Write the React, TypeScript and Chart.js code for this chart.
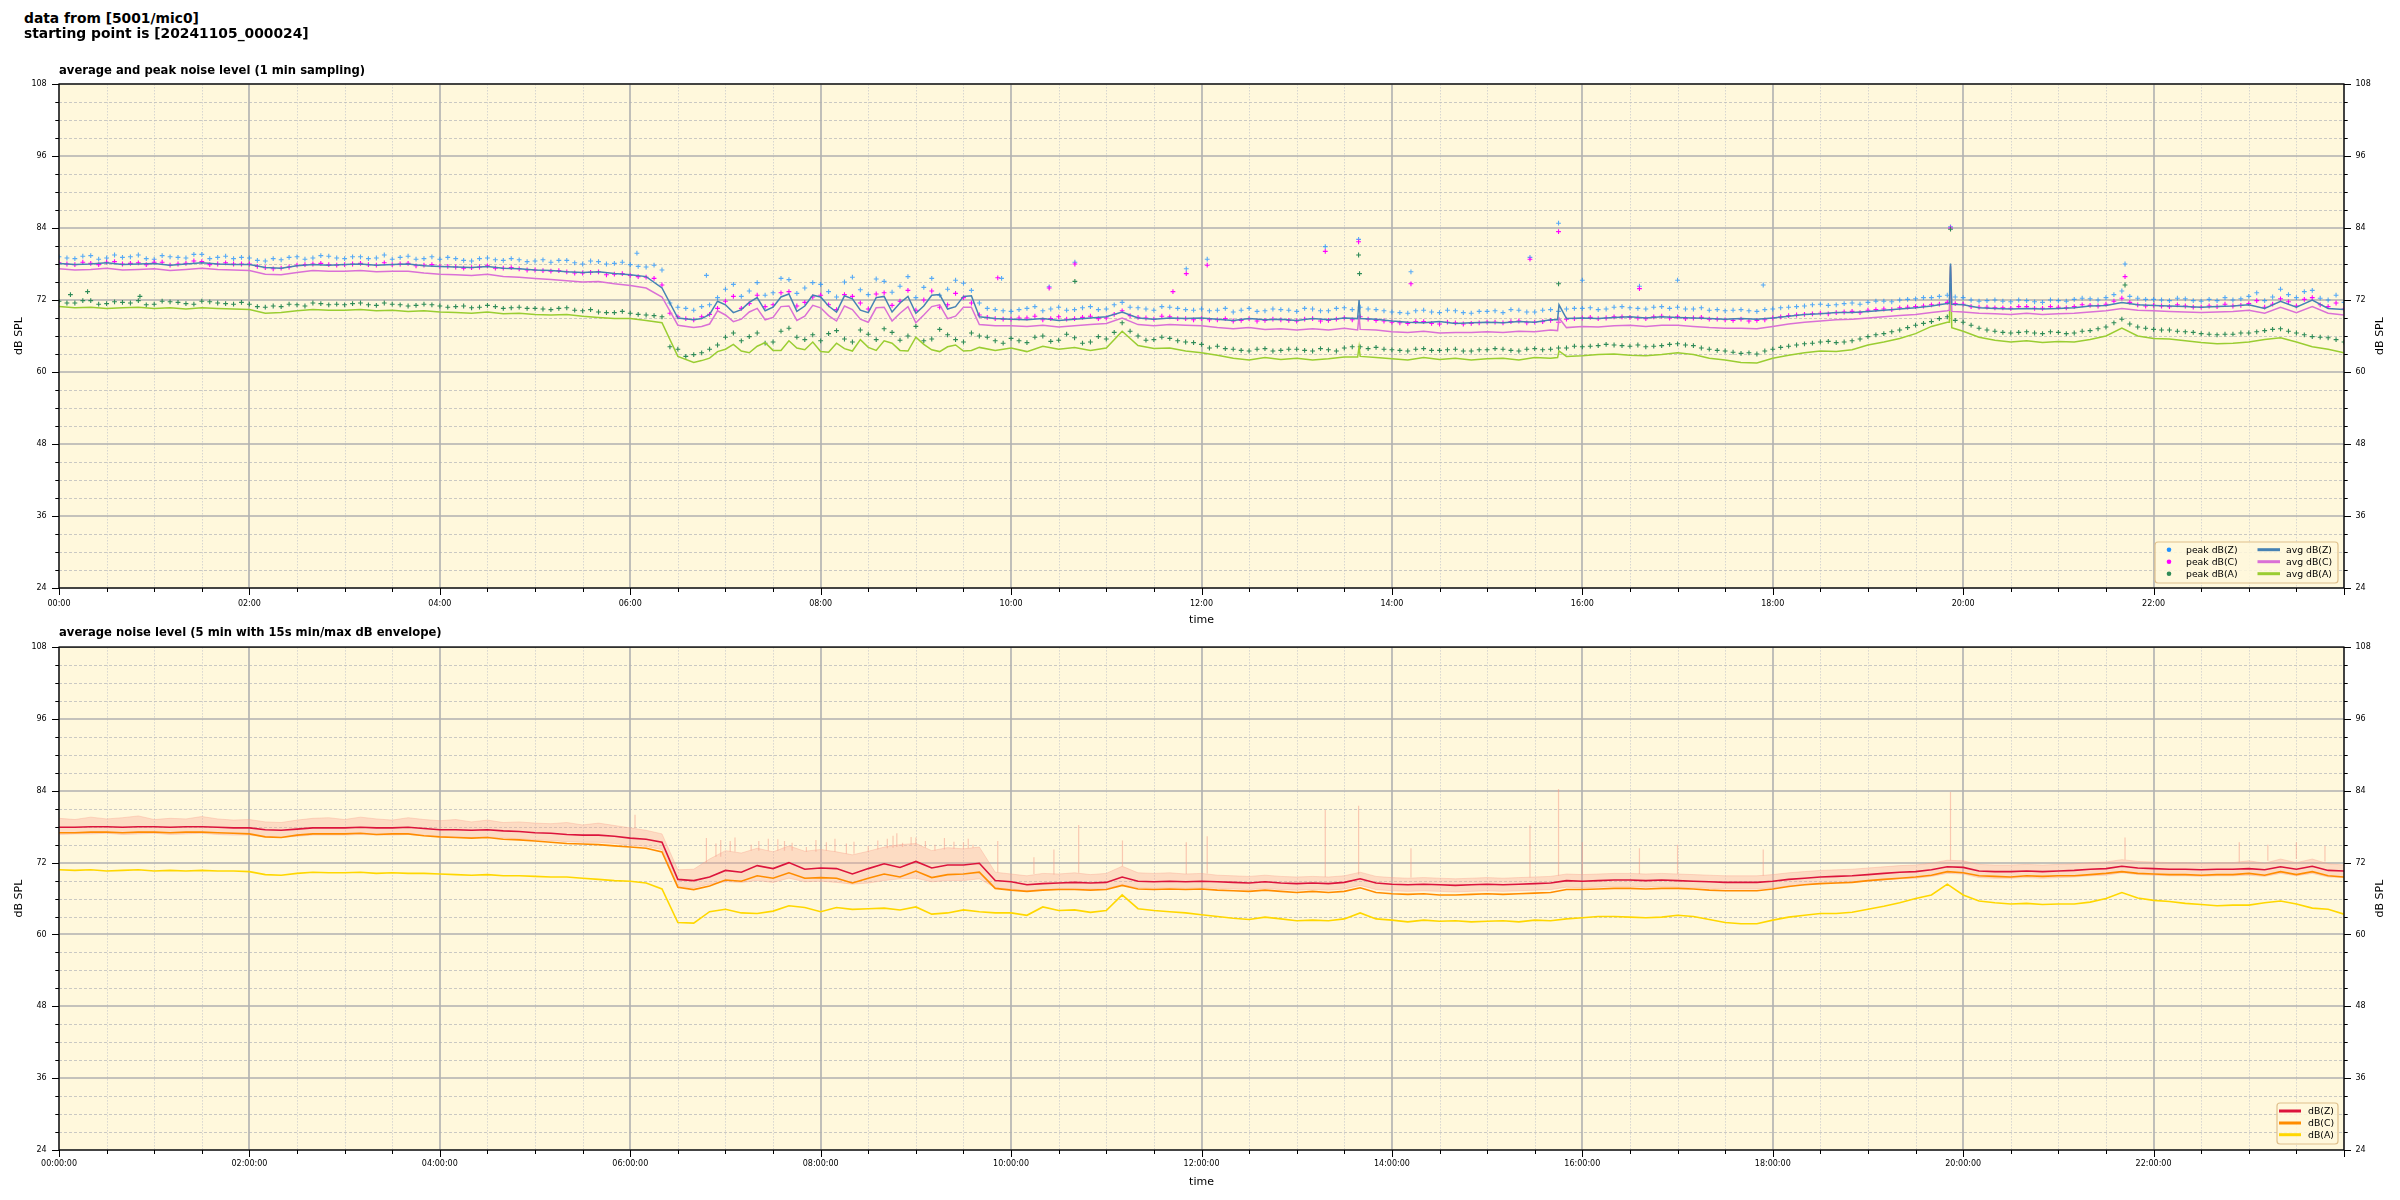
import React, { useEffect, useRef } from "react";
import { Chart, registerables } from "chart.js";

Chart.register(...registerables);

const FONT = "DejaVu Sans";
const PLOT_BG = "#fff8dc";

// 10-minute sampling grid, 00:00 .. 24:00 (hours)
const TIMES: number[] = Array.from({ length: 145 }, (_, i) => i / 6);
// second peak reading in each 10-min slot (5 min later)
const TIMES_B: number[] = Array.from({ length: 144 }, (_, i) => i / 6 + 1 / 12);

// ---------- top panel: 1-min averages (read at 10-min steps) ----------
const AVG_Z = [
  78.1, 77.9, 78.0, 78.2, 77.9, 78.0, 78.1, 77.8, 78.0, 78.2, 78.0, 77.9,
  77.9, 77.4, 77.3, 77.7, 77.9, 77.8, 77.9, 78.0, 77.8, 77.9, 78.0, 77.7,
  77.6, 77.5, 77.4, 77.6, 77.3, 77.2, 77.0, 76.9, 76.7, 76.6, 76.7, 76.4,
  76.2, 75.9, 74.0, 69.0, 68.7, 69.6, 71.2, 70.4, 72.4, 70.8, 73.0, 71.0,
  72.5, 70.0, 72.2, 69.9, 72.6, 71.5, 69.8, 72.8, 70.5, 72.6, 69.2, 68.9,
  68.8, 68.7, 68.9, 68.6, 68.8, 69.0, 69.2, 70.0, 69.0, 68.8, 69.0, 68.9,
  69.0, 68.8, 68.6, 68.9, 68.7, 68.8, 68.6, 68.9, 68.7, 69.0, 68.9, 68.8,
  68.5, 68.3, 68.2, 68.4, 68.1, 68.2, 68.3, 68.2, 68.4, 68.3, 68.7, 68.9,
  69.0, 68.9, 69.1, 69.2, 69.0, 69.2, 69.1, 69.0, 68.9, 68.8, 68.9, 68.8,
  69.0, 69.3, 69.6, 69.7, 69.9, 69.9, 70.1, 70.3, 70.5, 70.7, 71.0, 71.4,
  71.2, 70.7, 70.6, 70.5, 70.6, 70.5, 70.6, 70.7, 71.0, 71.1, 71.6, 71.2,
  71.1, 71.0, 70.9, 70.8, 70.9, 71.0, 71.2, 70.6, 71.8, 70.8, 72.0, 70.6,
  70.4,
];
const AVG_C = [
  77.2, 77.0, 77.1, 77.3, 77.0, 77.1, 77.2, 76.9, 77.1, 77.3, 77.1, 77.0,
  76.9, 76.3, 76.2, 76.6, 76.9, 76.8, 76.8, 76.9, 76.7, 76.8, 76.8, 76.5,
  76.3, 76.2, 76.1, 76.3, 75.9, 75.8, 75.6, 75.4, 75.2, 75.0, 75.1, 74.7,
  74.4, 74.0, 72.5, 67.8, 67.4, 68.0, 69.5, 68.8, 70.6, 69.1, 71.0, 69.3,
  70.7, 68.5, 70.4, 68.3, 70.8, 69.8, 68.2, 70.9, 68.9, 70.8, 67.9, 67.7,
  67.7, 67.6, 67.8, 67.5, 67.7, 67.9, 68.1, 69.0, 67.9, 67.7, 67.9, 67.8,
  67.7, 67.4, 67.2, 67.4, 67.1, 67.2, 67.0, 67.2, 67.0, 67.3, 67.1, 67.0,
  66.7, 66.6, 66.8, 66.5, 66.6, 66.6, 66.7, 66.6, 66.8, 66.7, 67.0, 67.4,
  67.6, 67.5, 67.7, 67.8, 67.6, 67.8, 67.8, 67.6, 67.4, 67.3, 67.3, 67.2,
  67.6, 68.0, 68.3, 68.5, 68.7, 68.8, 69.0, 69.2, 69.4, 69.6, 69.9, 70.2,
  70.0, 69.8, 69.7, 69.6, 69.8, 69.6, 69.7, 69.8, 70.0, 70.2, 70.6, 70.3,
  70.2, 70.1, 70.0, 69.9, 70.0, 70.1, 70.3, 69.8, 70.8, 69.9, 70.9, 69.8,
  69.5,
];
const AVG_A = [
  70.9, 70.7, 70.8, 70.6, 70.7, 70.8, 70.6, 70.7, 70.5, 70.7, 70.6, 70.5,
  70.4, 69.8, 69.9, 70.2, 70.4, 70.3, 70.3, 70.4, 70.2, 70.3, 70.1, 70.2,
  70.0, 69.9, 69.8, 70.0, 69.7, 69.8, 69.6, 69.5, 69.6, 69.3, 69.1, 68.9,
  68.9, 68.6, 68.2, 62.6, 61.6, 62.3, 63.8, 63.5, 64.3, 63.6, 65.2, 63.7,
  63.4, 64.8, 63.5, 64.1, 65.2, 63.6, 65.8, 63.7, 64.2, 63.5, 64.1, 63.6,
  64.0, 63.4, 64.3, 63.8, 64.1, 63.6, 64.0, 66.8, 64.4, 63.9, 64.0, 63.5,
  63.2, 62.8, 62.3, 62.0, 62.4, 62.1, 62.3, 62.0, 62.2, 62.5, 62.6, 62.4,
  62.2, 62.0, 62.4, 62.1, 62.3, 62.0, 62.2, 62.3, 62.0, 62.4, 62.3, 62.6,
  62.7, 62.9, 63.0, 62.8, 62.7, 62.9, 63.2, 62.9, 62.3, 62.0, 61.6, 61.5,
  62.3, 62.8, 63.2, 63.5, 63.4, 63.7, 64.5, 65.0, 65.6, 66.4, 67.6, 68.3,
  66.8, 65.8, 65.3, 65.0, 65.2, 64.9, 65.1, 65.0, 65.4, 66.0, 67.3, 66.0,
  65.6, 65.5, 65.2, 64.9, 64.7, 64.8, 65.0, 65.4, 65.7, 65.0, 64.2, 63.8,
  63.2,
];
// extra readings between grid points in the busy 06:45-09:35 stretch
const MID_T = [6.75, 6.917, 7.083, 7.25, 7.417, 7.583, 7.75, 7.917, 8.083, 8.25, 8.417, 8.583, 8.75, 8.917, 9.083, 9.25, 9.417, 9.583];
const MID_Z = [68.9, 71.8, 69.9, 71.6, 70.2, 72.5, 70.1, 72.8, 71.0, 72.7, 70.3, 72.4, 70.0, 72.6, 71.0, 72.9, 70.9, 72.7];
const MID_C = [67.6, 70.2, 68.4, 70.0, 68.7, 70.9, 68.6, 71.1, 69.4, 71.0, 68.8, 70.7, 68.5, 70.9, 69.5, 71.2, 69.3, 70.8];
const MID_A = [61.9, 63.4, 64.6, 63.2, 64.9, 63.6, 64.0, 65.0, 63.3, 63.9, 65.4, 63.6, 64.8, 63.5, 64.6, 63.4, 64.5, 63.6];
// short 1-min spikes in the averages
const SPIKE_T = [13.64, 13.655, 15.74, 15.755, 19.855, 19.867, 19.88];
const SPIKE_Z = [68.9, 72.0, 68.7, 71.2, 71.4, 78.1, 71.3];
const SPIKE_C = [67.0, 69.5, 66.9, 69.0, 70.3, 77.8, 70.1];
const SPIKE_A = [62.5, 64.2, 62.4, 63.5, 68.3, 77.6, 67.4];

// peaks (two readings per 10-min slot)
const PEAK_Z = [
  79.2, 78.9, 79.4, 79.0, 79.1, 79.5, 78.8, 79.2, 79.0, 79.6, 79.1, 78.9,
  79.0, 78.5, 78.7, 79.2, 79.0, 79.3, 78.9, 79.2, 79.0, 78.8, 79.3, 78.9,
  78.8, 78.9, 78.5, 79.0, 78.6, 78.7, 78.5, 78.3, 78.6, 78.0, 78.4, 78.1,
  77.9, 77.5, 77.0, 70.8, 70.3, 71.2, 73.8, 72.6, 74.9, 73.2, 75.4, 74.0,
  74.6, 72.5, 75.8, 72.9, 75.1, 74.3, 72.4, 75.6, 73.8, 74.8, 71.5, 70.4,
  70.1, 70.6, 70.2, 70.8, 70.4, 70.9, 70.5, 71.6, 70.7, 70.3, 70.8, 70.4,
  70.5, 70.3, 70.0, 70.6, 70.2, 70.4, 70.1, 70.5, 70.2, 70.7, 70.8, 70.4,
  70.0, 69.8, 70.3, 69.9, 70.2, 69.8, 70.1, 69.9, 70.3, 70.0, 70.4, 70.5,
  70.6, 70.4, 70.8, 70.7, 70.5, 70.9, 70.8, 70.5, 70.3, 70.2, 70.4, 70.1,
  70.5, 70.8, 71.0, 71.3, 71.2, 71.5, 71.6, 71.8, 72.0, 72.2, 72.4, 72.8,
  72.4, 71.8, 72.0, 71.7, 71.9, 71.6, 71.9, 72.1, 72.2, 72.4, 73.5, 72.3,
  72.1, 71.9, 72.2, 71.8, 71.9, 72.0, 72.6, 71.9, 73.8, 72.4, 73.6, 72.0,
  71.6,
];
const PEAK_Z_B = [
  79.0, 79.3, 78.8, 79.5, 79.2, 78.9, 79.4, 79.1, 79.6, 78.9, 79.3, 79.1,
  78.6, 78.9, 79.1, 78.8, 79.4, 79.0, 79.2, 78.9, 79.5, 79.1, 78.8, 79.2,
  79.1, 78.6, 78.9, 78.7, 78.9, 78.4, 78.7, 78.6, 78.2, 78.5, 78.0, 78.3,
  77.6, 77.8, 71.5, 70.6, 70.9, 72.4, 74.6, 73.5, 72.8, 75.6, 73.1, 74.9,
  73.4, 75.0, 73.7, 75.5, 73.3, 75.9, 74.1, 72.8, 75.3, 73.6, 70.6, 70.2,
  70.4, 70.9, 70.5, 70.3, 70.7, 70.4, 71.2, 70.8, 70.5, 70.9, 70.6, 70.3,
  70.2, 70.6, 70.3, 70.1, 70.5, 70.3, 70.6, 70.2, 70.6, 70.4, 70.5, 70.2,
  69.9, 70.2, 70.0, 70.3, 69.9, 70.1, 70.2, 70.4, 70.0, 70.3, 70.1, 70.6,
  70.7, 70.5, 70.9, 70.6, 70.8, 70.6, 70.5, 70.7, 70.4, 70.3, 70.2, 70.4,
  70.7, 70.9, 71.2, 71.1, 71.4, 71.3, 71.8, 71.7, 72.1, 72.4, 72.6, 72.5,
  72.0, 71.9, 71.8, 72.0, 71.7, 72.0, 71.8, 72.3, 72.0, 72.9, 72.6, 72.1,
  72.0, 72.3, 71.9, 72.1, 72.4, 72.2, 73.2, 72.5, 72.9, 73.4, 72.3, 72.8,
];
const PEAK_C = [
  78.2, 77.9, 78.1, 78.3, 78.0, 78.2, 78.3, 77.8, 78.1, 78.4, 78.0, 78.0,
  78.0, 77.4, 77.3, 77.8, 78.0, 77.9, 77.9, 78.1, 77.8, 77.9, 78.1, 77.8,
  77.6, 77.5, 77.4, 77.7, 77.3, 77.2, 77.0, 76.8, 76.7, 76.5, 76.7, 76.3,
  76.1, 75.8, 74.5, 69.2, 68.7, 69.6, 71.8, 70.6, 72.8, 71.2, 73.4, 71.6,
  72.8, 70.4, 72.6, 70.5, 73.2, 71.8, 70.3, 73.5, 71.2, 72.4, 69.5, 68.9,
  68.8, 69.0, 68.7, 69.2, 68.9, 69.3, 69.0, 70.2, 69.1, 68.8, 69.2, 68.9,
  68.9, 68.7, 68.5, 68.9, 68.6, 68.7, 68.5, 68.9, 68.6, 69.0, 69.2, 68.6,
  68.3, 68.1, 68.4, 68.0, 68.2, 68.1, 68.3, 68.2, 68.5, 68.3, 68.6, 68.8,
  69.0, 68.9, 69.2, 69.1, 68.9, 69.3, 69.2, 69.0, 68.8, 68.7, 68.8, 68.6,
  69.0, 69.4, 69.6, 69.8, 69.9, 70.1, 70.3, 70.5, 70.7, 70.9, 71.2, 71.6,
  71.3, 70.8, 70.7, 70.6, 70.9, 70.6, 70.8, 70.9, 71.1, 71.3, 72.3, 71.2,
  71.1, 70.9, 71.0, 70.8, 70.9, 71.0, 71.4, 70.8, 72.2, 71.0, 72.4, 70.9,
  70.5,
];
const PEAK_C_B = [
  78.0, 78.3, 77.9, 78.4, 78.1, 77.9, 78.3, 78.0, 78.5, 77.9, 78.2, 78.0,
  77.6, 77.2, 77.5, 77.9, 78.1, 77.8, 78.0, 77.9, 78.2, 78.0, 77.7, 77.9,
  77.6, 77.3, 77.5, 77.3, 77.4, 77.0, 76.9, 76.9, 76.5, 76.6, 76.2, 76.4,
  75.9, 75.6, 69.8, 68.9, 69.2, 70.6, 72.6, 71.4, 70.9, 73.2, 71.0, 72.5,
  71.2, 72.9, 71.5, 73.0, 71.1, 73.6, 72.0, 70.8, 73.1, 71.5, 69.1, 68.8,
  69.0, 69.3, 68.9, 68.8, 69.1, 68.9, 69.6, 69.4, 69.0, 69.3, 68.9, 68.7,
  68.7, 68.9, 68.6, 68.5, 68.8, 68.6, 68.8, 68.5, 68.8, 68.7, 68.8, 68.5,
  68.2, 68.4, 68.1, 68.3, 68.0, 68.2, 68.3, 68.4, 68.2, 68.4, 68.3, 68.9,
  69.1, 69.0, 69.2, 69.0, 69.2, 69.0, 68.9, 69.1, 68.8, 68.6, 68.5, 68.7,
  69.2, 69.5, 69.7, 69.7, 70.0, 69.9, 70.4, 70.4, 70.8, 71.0, 71.3, 71.4,
  70.9, 70.8, 70.7, 70.9, 70.6, 70.9, 70.7, 71.2, 71.0, 71.8, 71.6, 71.0,
  71.0, 71.2, 70.8, 71.0, 71.3, 71.1, 71.9, 71.3, 71.7, 72.1, 71.2, 71.5,
];
const PEAK_A = [
  71.8, 71.5, 71.9, 71.4, 71.6, 71.9, 71.3, 71.7, 71.4, 71.8, 71.5, 71.3,
  71.3, 70.8, 70.9, 71.2, 71.5, 71.2, 71.2, 71.5, 71.1, 71.3, 71.0, 71.3,
  71.0, 70.9, 70.7, 71.1, 70.6, 70.8, 70.6, 70.4, 70.7, 70.2, 70.0, 69.9,
  69.8, 69.5, 69.2, 63.8, 62.9, 63.8, 65.8, 65.2, 66.5, 65.0, 67.3, 65.4,
  65.2, 66.9, 65.0, 66.3, 67.2, 65.3, 67.6, 65.5, 66.2, 65.0, 66.0, 65.2,
  65.6, 64.9, 66.0, 65.3, 65.7, 65.0, 65.5, 68.2, 66.0, 65.4, 65.6, 65.0,
  64.6, 64.3, 63.8, 63.5, 63.9, 63.6, 63.8, 63.5, 63.7, 64.0, 64.2, 64.1,
  63.7, 63.5, 63.9, 63.6, 63.8, 63.5, 63.7, 63.8, 63.5, 63.9, 63.8, 64.0,
  64.2, 64.4, 64.5, 64.3, 64.2, 64.4, 64.7, 64.4, 63.8, 63.5, 63.1, 63.0,
  63.8, 64.3, 64.7, 65.0, 64.9, 65.2, 65.9, 66.4, 67.0, 67.8, 68.4, 69.2,
  68.3, 67.3, 66.8, 66.5, 66.7, 66.4, 66.6, 66.5, 66.9, 67.5, 68.8, 67.5,
  67.1, 67.0, 66.7, 66.4, 66.2, 66.3, 66.5, 66.9, 67.2, 66.5, 65.9, 65.7,
  65.0,
];
const PEAK_A_B = [
  71.5, 71.9, 71.3, 71.7, 71.5, 71.2, 71.8, 71.6, 71.3, 71.7, 71.4, 71.6,
  70.9, 71.0, 71.3, 71.0, 71.4, 71.3, 71.4, 71.2, 71.5, 71.2, 71.1, 71.2,
  70.8, 71.0, 70.8, 70.9, 70.7, 70.6, 70.5, 70.6, 70.3, 70.4, 69.9, 70.1,
  69.6, 69.4, 64.2, 62.6, 63.2, 64.5, 66.5, 65.9, 64.8, 66.8, 65.8, 66.2,
  66.4, 65.5, 67.0, 65.4, 66.6, 66.0, 65.2, 67.1, 65.4, 66.5, 65.8, 64.8,
  65.2, 65.8, 65.1, 66.3, 64.8, 65.9, 66.6, 66.8, 65.3, 65.8, 65.2, 64.9,
  64.0, 63.9, 63.6, 63.8, 63.5, 63.8, 63.6, 63.9, 63.5, 64.2, 63.9, 63.8,
  63.6, 63.8, 63.6, 63.7, 63.5, 63.7, 63.9, 63.6, 63.8, 63.7, 64.0, 64.3,
  64.3, 64.6, 64.4, 64.5, 64.3, 64.6, 64.5, 64.0, 63.6, 63.3, 63.2, 63.5,
  64.1, 64.5, 64.8, 65.1, 65.0, 65.5, 66.2, 66.7, 67.4, 68.1, 68.9, 68.6,
  67.8, 67.0, 66.6, 66.6, 66.5, 66.7, 66.4, 66.8, 67.2, 68.2, 68.0, 67.3,
  67.0, 66.8, 66.6, 66.3, 66.3, 66.5, 66.7, 67.1, 66.8, 66.2, 65.8, 65.4,
];
// isolated peak outliers
const OUT_Z_T = [6.07, 6.8, 9.9, 10.4, 10.67, 11.84, 12.06, 13.3, 13.65, 14.2, 15.45, 15.75, 16.0, 16.6, 17.0, 17.9, 19.867, 21.7];
const OUT_Z = [79.8, 76.1, 75.6, 74.2, 78.3, 77.2, 78.8, 80.9, 82.1, 76.7, 79.1, 84.8, 75.3, 74.3, 75.3, 74.5, 84.2, 78.0];
const OUT_C_T = [9.86, 10.4, 10.67, 11.7, 11.84, 12.06, 13.3, 13.65, 14.2, 15.45, 15.75, 16.6, 19.867, 21.7];
const OUT_C = [75.7, 74.0, 78.0, 73.4, 76.4, 77.8, 80.1, 81.7, 74.7, 78.8, 83.4, 73.9, 84.0, 75.9];
const OUT_A_T = [0.12, 0.3, 0.85, 10.67, 13.65, 13.66, 15.75, 19.867, 21.7];
const OUT_A = [72.9, 73.4, 72.6, 75.1, 79.5, 76.4, 74.7, 83.8, 74.5];

// ---------- bottom panel: 5-min averages + 15 s min/max envelope ----------
const DB_Z = [
  77.9, 77.9, 78.0, 78.0, 77.9, 78.0, 78.0, 77.9, 78.0, 78.0, 77.9, 77.8,
  77.8, 77.5, 77.4, 77.6, 77.8, 77.8, 77.8, 77.9, 77.8, 77.8, 77.9, 77.7,
  77.5, 77.5, 77.4, 77.5, 77.3, 77.2, 77.0, 76.9, 76.7, 76.6, 76.6, 76.4,
  76.1, 75.9, 75.4, 69.2, 69.0, 69.6, 70.7, 70.4, 71.5, 71.0, 72.0, 70.9,
  71.1, 71.0, 70.1, 71.0, 71.8, 71.2, 72.2, 71.1, 71.6, 71.6, 71.9, 69.0,
  68.8, 68.3, 68.5, 68.6, 68.7, 68.6, 68.7, 69.6, 68.9, 68.8, 68.9, 68.8,
  68.9, 68.8, 68.7, 68.6, 68.8, 68.6, 68.5, 68.6, 68.5, 68.7, 69.3, 68.6,
  68.4, 68.3, 68.4, 68.3, 68.2, 68.3, 68.4, 68.3, 68.4, 68.5, 68.6, 69.0,
  68.9, 69.0, 69.1, 69.1, 69.0, 69.1, 69.0, 68.9, 68.8, 68.7, 68.7, 68.7,
  68.9, 69.2, 69.4, 69.6, 69.7, 69.8, 70.0, 70.2, 70.4, 70.5, 70.8, 71.3,
  71.2, 70.6, 70.5, 70.5, 70.6, 70.5, 70.6, 70.7, 70.9, 71.0, 71.4, 71.1,
  71.0, 70.9, 70.9, 70.8, 70.9, 70.9, 71.0, 70.8, 71.3, 70.9, 71.4, 70.7,
  70.6,
];
const DB_C = [
  77.0, 77.0, 77.1, 77.1, 77.0, 77.1, 77.1, 77.0, 77.1, 77.1, 77.0, 76.9,
  76.8, 76.3, 76.2, 76.6, 76.8, 76.8, 76.8, 76.9, 76.7, 76.8, 76.8, 76.5,
  76.3, 76.2, 76.1, 76.2, 75.9, 75.8, 75.6, 75.4, 75.2, 75.1, 75.0, 74.8,
  74.6, 74.4, 73.8, 67.9, 67.5, 68.1, 69.1, 68.9, 69.8, 69.4, 70.3, 69.4,
  69.5, 69.4, 68.6, 69.4, 70.1, 69.6, 70.6, 69.5, 70.0, 70.1, 70.4, 67.7,
  67.4, 67.2, 67.4, 67.5, 67.5, 67.4, 67.5, 68.2, 67.6, 67.5, 67.6, 67.5,
  67.6, 67.4, 67.3, 67.2, 67.4, 67.2, 67.0, 67.2, 67.0, 67.2, 67.8, 67.0,
  66.8, 66.7, 66.8, 66.6, 66.6, 66.7, 66.8, 66.7, 66.8, 66.9, 67.0, 67.5,
  67.5, 67.6, 67.7, 67.7, 67.6, 67.7, 67.7, 67.6, 67.4, 67.3, 67.3, 67.3,
  67.6, 68.0, 68.3, 68.5, 68.6, 68.7, 69.0, 69.2, 69.4, 69.6, 69.9, 70.5,
  70.3, 69.8, 69.7, 69.6, 69.8, 69.7, 69.8, 69.8, 70.0, 70.2, 70.5, 70.2,
  70.1, 70.0, 70.0, 69.9, 70.0, 70.0, 70.2, 69.9, 70.5, 70.0, 70.5, 69.8,
  69.6,
];
const DB_A = [
  70.8, 70.7, 70.8, 70.6, 70.7, 70.8, 70.6, 70.7, 70.6, 70.7, 70.6, 70.6,
  70.5, 70.0, 69.9, 70.2, 70.4, 70.3, 70.3, 70.4, 70.2, 70.3, 70.2, 70.2,
  70.1, 70.0, 69.9, 70.0, 69.8, 69.8, 69.7, 69.6, 69.6, 69.4, 69.2, 69.0,
  68.9, 68.6, 67.6, 62.0, 61.9, 63.8, 64.2, 63.6, 63.5, 63.9, 64.8, 64.5,
  63.8, 64.5, 64.2, 64.3, 64.4, 64.1, 64.6, 63.4, 63.6, 64.1, 63.8, 63.6,
  63.6, 63.2, 64.6, 64.0, 64.1, 63.7, 64.0, 66.6, 64.3, 64.0, 63.8, 63.6,
  63.3, 63.0, 62.7, 62.5, 62.9, 62.6, 62.3, 62.4, 62.3, 62.6, 63.6, 62.6,
  62.4, 62.1, 62.4, 62.2, 62.3, 62.1, 62.2, 62.3, 62.1, 62.4, 62.3, 62.6,
  62.8, 63.0, 63.0, 62.9, 62.8, 62.9, 63.2, 63.0, 62.5, 62.0, 61.8, 61.8,
  62.4, 62.9, 63.2, 63.5, 63.5, 63.7, 64.2, 64.7, 65.3, 66.0, 66.6, 68.4,
  66.6, 65.6, 65.3, 65.1, 65.2, 65.0, 65.1, 65.1, 65.4, 66.0, 67.0, 66.1,
  65.7, 65.5, 65.2, 65.0, 64.8, 64.9, 64.9, 65.3, 65.6, 65.1, 64.4, 64.2,
  63.4,
];
const ENV_MAX = [
  79.4, 79.2, 79.6, 79.3, 79.5, 79.8, 79.2, 79.4, 79.3, 79.7, 79.3, 79.1,
  79.2, 78.8, 78.7, 79.1, 79.4, 79.5, 79.2, 79.6, 79.3, 79.1, 79.5, 79.2,
  79.0, 79.2, 78.8, 79.1, 78.7, 78.8, 78.6, 78.5, 78.7, 78.3, 78.6, 78.2,
  77.8, 77.4, 76.8, 70.8, 70.9, 72.6, 74.0, 73.6, 74.4, 73.8, 74.8, 73.9,
  74.2, 73.8, 73.3, 73.9, 74.6, 75.0, 75.2, 74.0, 74.5, 74.3, 74.6, 70.4,
  70.1, 69.8, 70.2, 70.1, 70.3, 70.0, 70.2, 71.4, 70.3, 70.2, 70.3, 70.1,
  70.2, 69.9, 69.8, 69.7, 69.9, 69.7, 69.6, 69.7, 69.6, 69.8, 70.4, 69.7,
  69.5, 69.4, 69.5, 69.4, 69.3, 69.4, 69.5, 69.4, 69.5, 69.6, 69.7, 70.1,
  70.0, 70.1, 70.2, 70.2, 70.1, 70.2, 70.1, 70.0, 69.9, 69.8, 69.8, 69.8,
  70.0, 70.3, 70.5, 70.7, 70.8, 70.9, 71.1, 71.3, 71.5, 71.6, 71.9, 72.4,
  72.3, 71.7, 71.6, 71.6, 71.7, 71.6, 71.7, 71.8, 72.0, 72.1, 72.5, 72.2,
  72.1, 72.0, 72.0, 71.9, 72.0, 72.0, 72.3, 71.9, 72.6, 72.0, 72.6, 71.8,
  71.6,
];
const ENV_MIN = [
  76.7, 76.8, 76.8, 76.9, 76.7, 76.8, 76.9, 76.7, 76.8, 76.9, 76.7, 76.6,
  76.6, 76.3, 76.2, 76.4, 76.6, 76.6, 76.6, 76.7, 76.6, 76.6, 76.7, 76.5,
  76.3, 76.3, 76.2, 76.3, 76.1, 76.0, 75.8, 75.7, 75.5, 75.4, 75.4, 75.2,
  74.9, 74.7, 74.2, 68.0, 67.8, 68.4, 68.8, 68.7, 69.0, 68.7, 69.4, 68.8,
  68.9, 68.7, 68.4, 68.6, 69.0, 69.3, 69.4, 68.8, 69.0, 69.0, 69.3, 67.8,
  67.6, 67.3, 67.5, 67.6, 67.7, 67.6, 67.7, 68.3, 67.8, 67.7, 67.8, 67.7,
  67.8, 67.7, 67.6, 67.5, 67.7, 67.5, 67.4, 67.5, 67.4, 67.6, 68.2, 67.5,
  67.3, 67.2, 67.3, 67.2, 67.1, 67.2, 67.3, 67.2, 67.3, 67.4, 67.5, 67.9,
  67.8, 67.9, 68.0, 68.0, 67.9, 68.0, 67.9, 67.8, 67.7, 67.6, 67.6, 67.6,
  67.8, 68.1, 68.3, 68.5, 68.6, 68.7, 68.9, 69.1, 69.3, 69.4, 69.7, 70.2,
  70.1, 69.5, 69.4, 69.4, 69.5, 69.4, 69.5, 69.6, 69.8, 69.9, 70.3, 70.0,
  69.9, 69.8, 69.8, 69.7, 69.8, 69.8, 69.9, 69.7, 70.2, 69.8, 70.2, 69.6,
  69.5,
];
// thin 15-s maxima sticking out of the envelope
const ENV_SPK_T = [6.05, 6.8, 6.9, 6.95, 7.05, 7.1, 7.27, 7.35, 7.45, 7.55, 7.62, 7.7, 7.85, 7.95, 8.06, 8.15, 8.27, 8.35, 8.5, 8.6, 8.7, 8.76, 8.8, 8.86, 8.95, 9.0, 9.1, 9.2, 9.3, 9.4, 9.5, 9.55, 9.6, 9.86, 10.24, 10.45, 10.71, 11.17, 11.84, 12.06, 13.3, 13.65, 14.2, 15.45, 15.75, 16.0, 16.6, 17.0, 17.9, 19.867, 21.7, 22.9, 23.2, 23.5, 23.8];
const ENV_SPK_TOP = [80.0, 76.1, 75.2, 75.8, 75.6, 76.2, 75.0, 75.6, 76.0, 75.9, 75.6, 75.3, 74.6, 75.8, 75.4, 76.0, 75.2, 75.5, 74.8, 75.7, 76.0, 76.5, 76.9, 75.3, 76.3, 76.2, 75.6, 75.0, 76.1, 75.5, 75.4, 76.0, 75.0, 75.6, 72.9, 74.2, 78.3, 75.7, 75.4, 76.4, 80.8, 81.5, 74.4, 78.2, 84.3, 75.4, 74.4, 75.0, 74.2, 83.8, 76.2, 75.4, 75.0, 75.4, 74.8];
const ENV_SPK_BASE = [77.8, 72.0, 73.0, 73.0, 73.8, 73.8, 74.0, 74.0, 74.0, 74.0, 74.0, 74.0, 73.8, 73.8, 74.0, 73.8, 73.5, 73.5, 73.8, 74.2, 74.4, 74.5, 74.6, 74.6, 75.0, 75.0, 74.5, 74.0, 74.2, 74.3, 74.3, 74.4, 74.5, 70.4, 70.1, 70.0, 70.3, 71.4, 70.1, 70.2, 69.6, 70.0, 69.5, 69.5, 69.8, 70.0, 70.1, 70.1, 69.8, 72.4, 72.5, 72.0, 72.3, 72.6, 72.2];

const Y_MAJOR = [24, 36, 48, 60, 72, 84, 96, 108];
const X_MAJOR = [0, 2, 4, 6, 8, 10, 12, 14, 16, 18, 20, 22, 24];

// colours
const C_PZ = "rgba(30,144,255,0.75)";
const C_PC = "#ff00ff";
const C_PA = "#2e8b57";
const C_AZ = "#4682b4";
const C_AC = "#da70d6";
const C_AA = "#9acd32";
const C_Z = "#dc143c";
const C_C = "#ff8c00";
const C_A = "#ffd700";

type P = { x: number; y: number | null };
const pts = (ts: number[], vs: number[]): P[] => ts.map((t, i) => ({ x: t, y: vs[i] }));
const merge = (...lists: P[][]): P[] => lists.flat().sort((a, b) => a.x - b.x);

function hhmm(v: number, sec: boolean) {
  const s = String(Math.round(v)).padStart(2, "0") + ":00";
  return sec ? s + ":00" : s;
}

type LegItem = { kind: "marker" | "line"; color: string; label: string; x0: number; x1?: number; tx: number; row: number };
type LegSpec = { w: number; h: number; insetR: number; insetB: number; rows: number[]; items: LegItem[] };

function framePlugin(leg: LegSpec) {
  return {
    id: "mplFrame",
    beforeDatasetsDraw(chart: any) {
      const { ctx, chartArea: a } = chart;
      const xs = chart.scales.x;
      const ys = chart.scales.y;
      ctx.save();
      ctx.fillStyle = PLOT_BG;
      ctx.fillRect(a.left, a.top, a.right - a.left, a.bottom - a.top);
      const vline = (px: number) => { ctx.beginPath(); ctx.moveTo(px, a.top); ctx.lineTo(px, a.bottom); ctx.stroke(); };
      const hline = (py: number) => { ctx.beginPath(); ctx.moveTo(a.left, py); ctx.lineTo(a.right, py); ctx.stroke(); };
      ctx.lineWidth = 0.8;
      ctx.strokeStyle = "#cdcdcd";
      ctx.setLineDash([1.5, 1.5]);
      for (let h = 0.5; h < 24; h += 0.5) if (h % 2 !== 0) vline(Math.round(xs.getPixelForValue(h)) + 0.5);
      ctx.strokeStyle = "#bcbcbc";
      ctx.setLineDash([3, 2]);
      for (let v = 27; v < 108; v += 3) if (v % 12 !== 0) hline(Math.round(ys.getPixelForValue(v)) + 0.5);
      ctx.setLineDash([]);
      ctx.strokeStyle = "#b0b0b0";
      ctx.lineWidth = 1.6;
      for (const h of X_MAJOR) vline(Math.round(xs.getPixelForValue(h)));
      for (const v of Y_MAJOR) hline(Math.round(ys.getPixelForValue(v)));
      ctx.restore();
    },
    afterDatasetsDraw(chart: any) {
      const { ctx, chartArea: a } = chart;
      const xs = chart.scales.x;
      const ys = chart.scales.y;
      ctx.save();
      ctx.strokeStyle = "#000";
      ctx.lineWidth = 1.3;
      ctx.strokeRect(a.left, a.top, a.right - a.left, a.bottom - a.top);
      ctx.lineWidth = 1;
      const seg = (x0: number, y0: number, x1: number, y1: number) => { ctx.beginPath(); ctx.moveTo(x0, y0); ctx.lineTo(x1, y1); ctx.stroke(); };
      for (let v = 24; v <= 108; v += 3) {
        const py = Math.round(ys.getPixelForValue(v)) + 0.5;
        const len = v % 12 === 0 ? 7 : 3.7;
        seg(a.left - len, py, a.left, py);
        seg(a.right, py, a.right + len, py);
      }
      for (let h = 0; h <= 24; h += 0.5) {
        const px = Math.round(xs.getPixelForValue(h)) + 0.5;
        const len = h % 2 === 0 ? 7 : 4;
        seg(px, a.bottom, px, a.bottom + len);
      }
      // right-hand axis label, reading bottom-to-top like the left one
      ctx.save();
      ctx.translate(chart.width - 20, (a.top + a.bottom) / 2);
      ctx.rotate(-Math.PI / 2);
      ctx.font = `11px "${FONT}"`;
      ctx.fillStyle = "#000";
      ctx.textAlign = "center";
      ctx.textBaseline = "middle";
      ctx.fillText("dB SPL", 0, 0);
      ctx.restore();
      // legend
      const bx = a.right - leg.insetR - leg.w;
      const by = a.bottom - leg.insetB - leg.h;
      ctx.beginPath();
      if (ctx.roundRect) ctx.roundRect(bx, by, leg.w, leg.h, 3); else ctx.rect(bx, by, leg.w, leg.h);
      ctx.fillStyle = "rgba(255,248,220,0.85)";
      ctx.fill();
      ctx.strokeStyle = "#e0c08c";
      ctx.lineWidth = 1.2;
      ctx.stroke();
      ctx.font = `9.3px "${FONT}"`;
      ctx.textBaseline = "middle";
      ctx.textAlign = "left";
      for (const it of leg.items) {
        const cy = by + leg.rows[it.row];
        if (it.kind === "marker") {
          ctx.fillStyle = it.color;
          ctx.beginPath();
          ctx.arc(bx + it.x0, cy, 2.3, 0, Math.PI * 2);
          ctx.fill();
        } else {
          ctx.strokeStyle = it.color;
          ctx.lineWidth = 3;
          seg(bx + it.x0, cy, bx + (it.x1 as number), cy);
        }
        ctx.fillStyle = "#000";
        ctx.fillText(it.label, bx + it.tx, cy + 0.5);
      }
      ctx.restore();
    },
  };
}

function scales(sec: boolean, xHeight: number, xPad: number, xTitlePad: number) {
  const tickFont = { family: FONT, size: 8 };
  const titleFont = { family: FONT, size: 11 };
  const yCommon = {
    type: "linear",
    min: 24,
    max: 108,
    grid: { display: false, drawTicks: false },
    border: { display: false },
  };
  return {
    x: {
      type: "linear",
      position: "bottom",
      min: 0,
      max: 24,
      grid: { display: false, drawTicks: false },
      border: { display: false },
      ticks: {
        stepSize: 2,
        autoSkip: false,
        maxRotation: 0,
        padding: xPad,
        font: tickFont,
        color: "#000",
        callback: (v: any) => (Number(v) >= 24 ? "" : hhmm(Number(v), sec)),
      },
      title: { display: true, text: "time", font: titleFont, color: "#000", padding: { top: 0, bottom: xTitlePad } },
      afterFit: (s: any) => { s.height = xHeight; },
    },
    y: {
      ...yCommon,
      position: "left",
      ticks: { stepSize: 12, padding: 12.3, font: tickFont, color: "#000" },
      title: { display: true, text: "dB SPL", font: titleFont, color: "#000", padding: { top: 12.4, bottom: 0 } },
      afterFit: (s: any) => { s.width = 59; },
    },
    y2: {
      ...yCommon,
      position: "right",
      ticks: { stepSize: 12, padding: 11.5, font: tickFont, color: "#000" },
      title: { display: false },
      afterFit: (s: any) => { s.width = 56; },
    },
  };
}

const lineDs = (label: string, data: P[], color: string, width: number, order: number) => ({
  type: "line",
  label,
  data,
  borderColor: color,
  backgroundColor: color,
  borderWidth: width,
  pointRadius: 0,
  tension: 0,
  fill: false,
  order,
});
const peakDs = (label: string, data: P[], color: string, order: number) => ({
  type: "line",
  label,
  data,
  showLine: false,
  borderColor: color,
  backgroundColor: color,
  pointStyle: "cross",
  pointRadius: 2.4,
  pointBorderWidth: 1.1,
  order,
});

function topConfig(): any {
  const leg: LegSpec = {
    w: 183, h: 41, insetR: 6, insetB: 5, rows: [7.7, 19.7, 31.7],
    items: [
      { kind: "marker", color: "#1e90ff", label: "peak dB(Z)", x0: 14, tx: 31, row: 0 },
      { kind: "marker", color: C_PC, label: "peak dB(C)", x0: 14, tx: 31, row: 1 },
      { kind: "marker", color: C_PA, label: "peak dB(A)", x0: 14, tx: 31, row: 2 },
      { kind: "line", color: C_AZ, label: "avg dB(Z)", x0: 102.5, x1: 125, tx: 131, row: 0 },
      { kind: "line", color: C_AC, label: "avg dB(C)", x0: 102.5, x1: 125, tx: 131, row: 1 },
      { kind: "line", color: C_AA, label: "avg dB(A)", x0: 102.5, x1: 125, tx: 131, row: 2 },
    ],
  };
  return {
    type: "line",
    data: {
      datasets: [
        peakDs("peak dB(Z)", merge(pts(TIMES, PEAK_Z), pts(TIMES_B, PEAK_Z_B), pts(OUT_Z_T, OUT_Z)), C_PZ, 6),
        peakDs("peak dB(C)", merge(pts(TIMES, PEAK_C), pts(TIMES_B, PEAK_C_B), pts(OUT_C_T, OUT_C)), C_PC, 5),
        peakDs("peak dB(A)", merge(pts(TIMES, PEAK_A), pts(TIMES_B, PEAK_A_B), pts(OUT_A_T, OUT_A)), C_PA, 4),
        lineDs("avg dB(Z)", merge(pts(TIMES, AVG_Z), pts(MID_T, MID_Z), pts(SPIKE_T, SPIKE_Z)), C_AZ, 1.5, 1),
        lineDs("avg dB(C)", merge(pts(TIMES, AVG_C), pts(MID_T, MID_C), pts(SPIKE_T, SPIKE_C)), C_AC, 1.5, 2),
        lineDs("avg dB(A)", merge(pts(TIMES, AVG_A), pts(MID_T, MID_A), pts(SPIKE_T, SPIKE_A)), C_AA, 1.5, 3),
      ],
    },
    options: {
      responsive: false,
      animation: false,
      events: [],
      layout: { padding: { top: 34, left: 0, right: 0, bottom: 0 } },
      plugins: { legend: { display: false }, tooltip: { enabled: false }, title: { display: false } },
      scales: scales(false, 42, 10.9, 3.4),
    },
    plugins: [framePlugin(leg)],
  };
}

function bottomConfig(): any {
  const leg: LegSpec = {
    w: 61, h: 41, insetR: 6, insetB: 6, rows: [8, 20, 31.7],
    items: [
      { kind: "line", color: C_Z, label: "dB(Z)", x0: 2, x1: 24, tx: 31, row: 0 },
      { kind: "line", color: C_C, label: "dB(C)", x0: 2, x1: 24, tx: 31, row: 1 },
      { kind: "line", color: C_A, label: "dB(A)", x0: 2, x1: 24, tx: 31, row: 2 },
    ],
  };
  const spikes: P[] = [];
  ENV_SPK_T.forEach((t, i) => {
    spikes.push({ x: t, y: ENV_SPK_BASE[i] }, { x: t, y: ENV_SPK_TOP[i] }, { x: t, y: null });
  });
  return {
    type: "line",
    data: {
      datasets: [
        {
          type: "line", label: "env min", data: pts(TIMES, ENV_MIN),
          borderColor: "rgba(250,160,140,0.45)", borderWidth: 0.8, pointRadius: 0, fill: false, order: 9,
        },
        {
          type: "line", label: "env max", data: pts(TIMES, ENV_MAX),
          borderColor: "rgba(250,160,140,0.45)", borderWidth: 0.8, pointRadius: 0,
          fill: { target: 0 }, backgroundColor: "rgba(250,170,150,0.35)", order: 8,
        },
        {
          type: "line", label: "env spikes", data: spikes, spanGaps: false,
          borderColor: "rgba(245,160,140,0.55)", borderWidth: 1.2, pointRadius: 0, fill: false, order: 7,
        },
        lineDs("dB(A)", pts(TIMES, DB_A), C_A, 1.6, 3),
        lineDs("dB(C)", pts(TIMES, DB_C), C_C, 1.6, 2),
        lineDs("dB(Z)", pts(TIMES, DB_Z), C_Z, 1.6, 1),
      ],
    },
    options: {
      responsive: false,
      animation: false,
      events: [],
      layout: { padding: { top: 15, left: 0, right: 0, bottom: 0 } },
      plugins: { legend: { display: false }, tooltip: { enabled: false }, title: { display: false }, filler: { propagate: false } },
      scales: scales(true, 50, 9.5, 11.4),
    },
    plugins: [framePlugin(leg)],
  };
}

const txt = (top: number, size: number, left: number): React.CSSProperties => ({
  position: "absolute",
  left,
  top,
  fontFamily: FONT,
  fontWeight: "bold",
  fontSize: size,
  lineHeight: 1,
  whiteSpace: "nowrap",
  color: "#000",
});

export default function App() {
  const topRef = useRef<HTMLCanvasElement | null>(null);
  const botRef = useRef<HTMLCanvasElement | null>(null);
  useEffect(() => {
    const c1 = new Chart(topRef.current as HTMLCanvasElement, topConfig());
    const c2 = new Chart(botRef.current as HTMLCanvasElement, bottomConfig());
    return () => {
      c1.destroy();
      c2.destroy();
    };
  }, []);
  return (
    <div style={{ position: "fixed", left: 0, top: 0, width: 2400, height: 1200, background: "#fff", overflow: "hidden" }}>
      <canvas ref={topRef} width={2400} height={580} style={{ position: "absolute", left: 0, top: 50, width: 2400, height: 580 }} />
      <canvas ref={botRef} width={2400} height={570} style={{ position: "absolute", left: 0, top: 630, width: 2400, height: 570 }} />
      <div style={txt(12.3, 13.85, 24)}>data from [5001/mic0]</div>
      <div style={txt(27.3, 13.85, 24)}>starting point is [20241105_000024]</div>
      <div style={txt(65.2, 11.6, 59)}>average and peak noise level (1 min sampling)</div>
      <div style={txt(627.2, 11.6, 59)}>average noise level (5 min with 15s min/max dB envelope)</div>
    </div>
  );
}
